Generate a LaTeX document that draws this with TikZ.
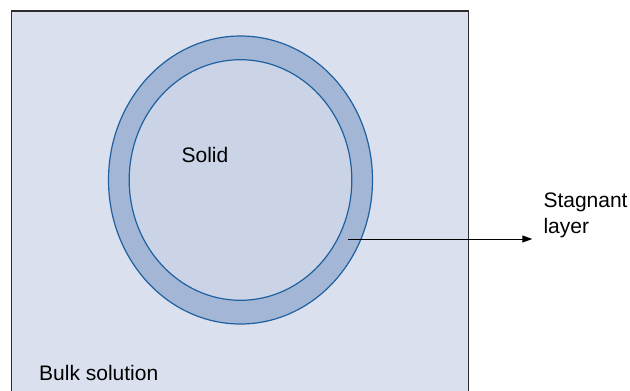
\documentclass[tikz,border=0pt]{standalone}
\usepackage{fontspec}
\setmainfont{Liberation Sans}
\usetikzlibrary{arrows.meta}
\definecolor{bgfill}{RGB}{218,224,238}
\definecolor{ringfill}{RGB}{163,182,213}
\definecolor{innerfill}{RGB}{203,212,231}
\definecolor{ringline}{RGB}{30,96,160}
\definecolor{boxline}{RGB}{45,45,45}
\begin{document}
\begin{tikzpicture}[x=1pt,y=-1pt,
  lbl/.style={font=\fontsize{21}{26}\selectfont, inner sep=0pt, text=black}]
\useasboundingbox (0,0) rectangle (630,391);
% bulk solution box (open at the bottom)
\fill[bgfill] (11.5,11) rectangle (468.5,395);
\draw[boxline, line width=1.5pt] (11.5,400) -- (11.5,11) -- (468.5,11) -- (468.5,400);
% stagnant layer and solid
\draw[ringline, line width=1.2pt, fill=ringfill] (240.5,180) ellipse [x radius=132, y radius=144];
\draw[ringline, line width=1.2pt, fill=innerfill] (240.5,180) ellipse [x radius=111.3, y radius=120.3];
\coordinate (ring) at (348.3,239);
% labels
\node[lbl, anchor=base] (solid) at (205,162) {Solid};
\node[lbl, anchor=base west] (bulk) at (39,380) {Bulk solution};
\node[lbl, anchor=base west, align=left] (stag) at (543.3,233.3) {Stagnant\\layer};
\coordinate (tip) at ([xshift=-11pt]stag.west |- ring);
\draw[line width=1pt, -{Triangle[length=10pt,width=7pt]}] (ring) -- (tip);
\end{tikzpicture}
\end{document}
